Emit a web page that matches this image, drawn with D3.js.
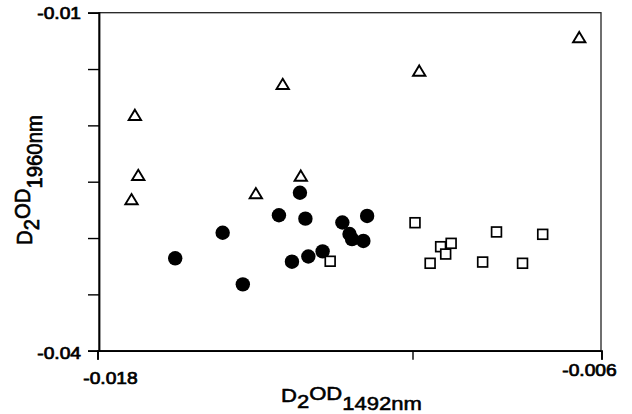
<!DOCTYPE html>
<html>
<head>
<meta charset="utf-8">
<script src="https://cdn.jsdelivr.net/npm/d3@7"></script>
<style>
  html, body { margin: 0; padding: 0; background: #fff; }
  svg { display: block; }
</style>
</head>
<body>
<svg></svg>
<script>
// Data
const triX = [-0.01711, -0.01703, -0.01719, -0.01359, -0.01423, -0.01316, -0.01034, -0.00653]
const triY = [-0.01908, -0.02441, -0.02656, -0.01633, -0.02603, -0.02447, -0.01515, -0.01218]

const circX = [-0.01615, -0.01502, -0.01454, -0.01368, -0.01318, -0.01305, -0.01337, -0.01298, -0.01264, -0.01217, -0.01200, -0.01194, -0.01167, -0.01158]
const circY = [-0.03180, -0.02953, -0.03411, -0.02798, -0.02598, -0.02828, -0.03210, -0.03164, -0.03118, -0.02862, -0.02964, -0.03009, -0.03026, -0.02804]

const sqX = [-0.01246, -0.01044, -0.01008, -0.00983, -0.00958, -0.00971, -0.00883, -0.00850, -0.00788, -0.00740]
const sqY = [-0.03206, -0.02864, -0.03224, -0.03077, -0.03047, -0.03142, -0.03213, -0.02946, -0.03224, -0.02967]

const xTicks = [-0.018, -0.0105, -0.006]
const xTickLabels = ["-0.018", "", "-0.006"]
const yTicks = [-0.04, -0.035, -0.03, -0.025, -0.02, -0.015, -0.01]
const yTickLabels = ["-0.04", "", "", "", "", "", "-0.01"]

const width = 632
const height = 414

const svg = d3.select("svg")
    .attr("width", width)
    .attr("height", height)
    .attr("font-family", "'Liberation Sans', Arial, sans-serif")

const plot = { left: 99, right: 601, top: 12.7, bottom: 350.7 }

// Scales
const xScale = d3.scaleLinear().domain([-0.018, -0.006]).range([97.5, 601.5])
const yScale = d3.scaleLinear().domain([-0.04, -0.01]).range([plot.bottom, plot.top])

// Frame (top and right thinner)
svg.append("rect")
    .attr("x", plot.left)
    .attr("y", plot.top)
    .attr("width", plot.right - plot.left)
    .attr("height", plot.bottom - plot.top)
    .attr("fill", "none")
    .attr("stroke", "#222")
    .attr("stroke-width", 1.3)

// Y axis
const yAxisG = svg.append("g")
    .attr("transform", `translate(${plot.left},0)`)
    .call(d3.axisLeft(yScale).tickValues(yTicks).tickSize(11).tickFormat((d, i) => yTickLabels[i]))
yAxisG.select(".domain").attr("stroke", "#000").attr("stroke-width", 1.8)
yAxisG.selectAll(".tick line").attr("stroke", "#000").attr("stroke-width", 1.4)
yAxisG.selectAll(".tick text").remove()

// X axis
const xAxisG = svg.append("g")
    .attr("transform", `translate(0,${plot.bottom})`)
    .call(d3.axisBottom(xScale).tickValues(xTicks).tickSize(9).tickFormat((d, i) => xTickLabels[i]))
xAxisG.select(".domain").attr("stroke", "#000").attr("stroke-width", 1.8)
xAxisG.selectAll(".tick line").attr("stroke", "#000").attr("stroke-width", 1.4)
xAxisG.selectAll(".tick text").remove()

// Tick labels (scanned original is stretched sideways)
const tickLabel = (txt, x, y, anchor) => {
    svg.append("text")
        .attr("transform", `translate(${x},${y}) scale(1.2,1)`)
        .attr("text-anchor", anchor)
        .attr("font-size", "16px")
        .attr("fill", "#000")
        .attr("stroke", "#000")
        .attr("stroke-width", 0.7)
        .text(txt)
}
yTicks.forEach((t, i) => {
    if (yTickLabels[i]) tickLabel(yTickLabels[i], plot.left - 18, yScale(t) + 6 + (i === 0 ? 2 : 0), "end")
})
tickLabel(xTickLabels[0], xScale(xTicks[0]) + 13, plot.bottom + 33, "middle")
tickLabel(xTickLabels[2], xScale(xTicks[2]) - 12, plot.bottom + 25, "middle")

// Axis titles
const xTitle = svg.append("text")
    .attr("transform", "translate(281,0) scale(1.16,1)")
    .attr("font-size", "19px")
    .attr("fill", "#000")
    .attr("stroke", "#000")
    .attr("stroke-width", 0.55)
xTitle.append("tspan").attr("x", 0).attr("y", 401.7).text("D")
xTitle.append("tspan").attr("y", 408).text("2")
xTitle.append("tspan").attr("y", 400).text("OD")
xTitle.append("tspan").attr("y", 410).text("1492nm")

const yTitle = svg.append("text")
    .attr("transform", "translate(32,245) scale(1.16,1) rotate(-90) scale(1.07,1)")
    .attr("font-size", "19px")
    .attr("fill", "#000")
    .attr("stroke", "#000")
    .attr("stroke-width", 0.55)
yTitle.append("tspan").attr("x", 0).attr("y", 0).text("D")
yTitle.append("tspan").attr("y", 6.3).text("2")
yTitle.append("tspan").attr("y", -1.7).text("OD")
yTitle.append("tspan").attr("y", 8.3).text("1960nm")

// Points
const circles = circX.map((x, i) => ({ x, y: circY[i] }))
const squares = sqX.map((x, i) => ({ x, y: sqY[i] }))
const triangles = triX.map((x, i) => ({ x, y: triY[i] }))

svg.append("g").selectAll("circle").data(circles)
    .enter()
    .append("circle")
    .attr("cx", d => xScale(d.x))
    .attr("cy", d => yScale(d.y))
    .attr("r", 7.2)
    .attr("fill", "#000")

svg.append("g").selectAll("rect").data(squares)
    .enter()
    .append("rect")
    .attr("x", d => xScale(d.x) - 4.9)
    .attr("y", d => yScale(d.y) - 4.9)
    .attr("width", 9.8)
    .attr("height", 9.8)
    .attr("fill", "#fff")
    .attr("stroke", "#000")
    .attr("stroke-width", 1.7)

svg.append("g").selectAll("path").data(triangles)
    .enter()
    .append("path")
    .attr("d", "M0,-5.3L6.2,5L-6.2,5Z")
    .attr("transform", d => `translate(${xScale(d.x)},${yScale(d.y)})`)
    .attr("fill", "#fff")
    .attr("stroke", "#000")
    .attr("stroke-width", 1.9)
    .attr("stroke-linejoin", "miter")
</script>
</body>
</html>
